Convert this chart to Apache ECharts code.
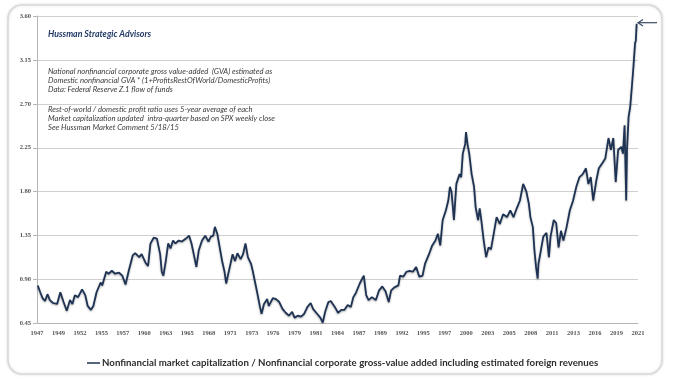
<!DOCTYPE html>
<html>
<head>
<meta charset="utf-8">
<script src="https://cdn.jsdelivr.net/npm/echarts@6/dist/echarts.min.js"></script>
<style>
html,body{margin:0;padding:0;background:#fff;}
#chart{width:674px;height:384px;}
</style>
</head>
<body>
<div id="chart"></div>
<script>
// decimal years of each reading
const years = [
1947.1,1947.4,1947.7,1948.0,1948.3,1948.6,1949.0,1949.5,1949.9,1950.3,1950.7,1951.1,1951.4,1951.7,1952.1,1952.6,1953.0,1953.3,1953.7,1954.0,
1954.4,1954.9,1955.1,1955.6,1955.9,1956.3,1956.7,1957.2,1957.6,1958.0,1958.4,1958.9,1959.2,1959.7,1960.0,1960.5,1960.8,1961.1,1961.5,1961.9,
1962.0,1962.3,1962.5,1962.7,1963.0,1963.3,1963.6,1963.9,1964.2,1964.6,1965.0,1965.5,1965.9,1966.2,1966.5,1966.8,1967.1,1967.5,1967.9,1968.3,
1968.6,1968.9,1969.1,1969.4,1969.7,1970.0,1970.3,1970.5,1970.9,1971.3,1971.6,1971.9,1972.3,1972.6,1972.9,1973.2,1973.6,1973.8,1974.1,1974.4,
1974.7,1974.9,1975.2,1975.6,1975.8,1976.3,1976.7,1977.1,1977.5,1977.9,1978.3,1978.7,1979.0,1979.4,1979.8,1980.2,1980.6,1981.0,1981.3,1981.8,
1982.2,1982.5,1982.8,1983.2,1983.5,1984.0,1984.4,1984.8,1985.2,1985.6,1986.0,1986.3,1986.6,1987.1,1987.4,1987.6,1987.9,1988.2,1988.6,1989.1,
1989.5,1989.9,1990.3,1990.7,1991.0,1991.4,1991.9,1992.1,1992.5,1992.9,1993.3,1993.7,1994.1,1994.5,1994.9,1995.2,1995.7,1996.1,1996.5,1996.8,
1997.1,1997.4,1997.8,1998.1,1998.3,1998.5,1998.8,1999.1,1999.5,1999.7,1999.9,2000.2,2000.3,2000.5,2000.7,2001.0,2001.3,2001.5,2001.8,2002.0,
2002.2,2002.5,2002.8,2003.1,2003.4,2003.7,2004.1,2004.5,2004.9,2005.4,2005.8,2006.2,2006.6,2007.0,2007.4,2007.8,2008.1,2008.3,2008.6,2008.8,
2009.0,2009.2,2009.3,2009.6,2009.9,2010.3,2010.6,2010.8,2011.2,2011.5,2011.8,2012.1,2012.4,2012.8,2013.2,2013.6,2014.0,2014.4,2014.8,2015.2,
2015.5,2015.8,2016.1,2016.5,2016.8,2017.2,2017.6,2018.0,2018.3,2018.6,2018.9,2019.2,2019.6,2019.8,2020.0,2020.2,2020.3,2020.5,2020.7,2020.9,
2021.1,2021.3,2021.4,2021.5
];
// Nonfinancial market cap / nonfinancial corporate GVA
const ratio = [
0.84,0.77,0.71,0.68,0.75,0.69,0.66,0.65,0.77,0.67,0.58,0.69,0.65,0.74,0.72,0.80,0.74,0.63,0.59,0.63,
0.77,0.87,0.84,0.98,0.96,0.99,0.96,0.97,0.94,0.85,0.99,1.15,1.17,1.13,1.16,1.07,1.04,1.27,1.33,1.32,
1.31,1.16,0.98,0.94,1.09,1.27,1.22,1.30,1.27,1.30,1.29,1.32,1.35,1.27,1.15,1.03,1.20,1.30,1.35,1.29,
1.34,1.35,1.44,1.37,1.23,1.09,0.98,0.86,1.01,1.16,1.09,1.17,1.11,1.16,1.27,1.13,1.06,0.99,0.87,0.75,
0.62,0.55,0.65,0.70,0.63,0.71,0.70,0.67,0.60,0.56,0.53,0.57,0.51,0.53,0.52,0.55,0.62,0.66,0.60,0.55,
0.51,0.46,0.57,0.67,0.68,0.62,0.56,0.59,0.59,0.64,0.62,0.72,0.76,0.86,0.91,0.94,0.74,0.69,0.72,0.69,
0.79,0.83,0.78,0.67,0.79,0.82,0.84,0.94,0.93,0.98,0.99,0.98,1.03,0.93,0.94,1.06,1.16,1.25,1.30,1.37,
1.25,1.51,1.61,1.71,1.85,1.80,1.51,1.88,1.98,1.95,2.19,2.29,2.41,2.28,2.19,1.98,1.85,1.64,1.51,1.63,
1.51,1.30,1.13,1.23,1.21,1.35,1.54,1.47,1.57,1.54,1.61,1.54,1.63,1.71,1.88,1.80,1.68,1.54,1.44,1.20,
1.03,0.91,1.06,1.20,1.34,1.38,1.13,1.34,1.51,1.48,1.23,1.40,1.30,1.44,1.61,1.71,1.85,1.95,1.98,2.04,
1.88,1.95,1.71,1.92,2.04,2.09,2.14,2.35,2.23,2.35,1.90,2.23,2.26,2.19,2.48,1.71,2.23,2.57,2.67,2.87,
3.08,3.32,3.35,3.52
];
const yTicks = [0.45, 0.90, 1.35, 1.80, 2.25, 2.70, 3.15, 3.60];
const startYear = 1947;
const seriesName = 'Nonfinancial market capitalization / Nonfinancial corporate gross-value added including estimated foreign revenues';
const titleText = 'Hussman Strategic Advisors';
const note1 = [
  'National nonfinancial corporate gross value-added  (GVA) estimated as',
  'Domestic nonfinancial GVA * (1+ProfitsRestOfWorld/DomesticProfits)',
  'Data: Federal Reserve Z.1 flow of funds'
];
const note2 = [
  'Rest-of-world / domestic profit ratio uses 5-year average of each',
  'Market capitalization updated  intra-quarter based on SPX weekly close',
  'See Hussman Market Comment 5/18/15'
];

const seriesData = years.map((y, i) => [(y - startYear) * 12, ratio[i]]);

const chart = echarts.init(document.getElementById('chart'), null, {renderer: 'canvas'});
const noteStyle = {fontFamily: 'Lato', fontStyle: 'italic', fontSize: 7.7, fill: '#3a3a3a', lineHeight: 9.1};
chart.setOption({
  animation: false,
  backgroundColor: '#fff',
  grid: {left: 37, right: 36, top: 16, bottom: 60.5},
  xAxis: {
    type: 'value', min: 0, max: 896, interval: 32,
    axisLine: {show: true, lineStyle: {color: '#b5b5b5', width: 1}},
    axisTick: {show: false},
    splitLine: {show: false},
    axisLabel: {
      margin: 6, fontSize: 6.5, fontWeight: 'bold', color: '#555', fontFamily: 'Liberation Serif',
      showMinLabel: true, showMaxLabel: true,
      formatter: v => String(startYear + Math.floor(v / 12 + 1e-6))
    }
  },
  yAxis: {
    type: 'value', min: yTicks[0], max: yTicks[yTicks.length - 1], interval: 0.45,
    axisLine: {show: true, lineStyle: {color: '#b5b5b5', width: 1}},
    axisTick: {show: true, length: 4, lineStyle: {color: '#b5b5b5'}},
    splitLine: {show: true, lineStyle: {color: '#cfcfcf', width: 1.2}},
    axisLabel: {margin: 6, fontSize: 6.5, fontWeight: 'bold', color: '#555', fontFamily: 'Liberation Serif',
      formatter: v => v.toFixed(2)}
  },
  legend: {
    left: 82, top: 353, icon: 'rect', itemWidth: 13, itemHeight: 1.5,
    textStyle: {fontFamily: 'Lato', fontSize: 9.7, fontWeight: 'bold', color: '#2e2e2e', padding: [0, 0, 0, -3]},
    data: [seriesName]
  },
  series: [{
    name: seriesName, type: 'line', data: seriesData, showSymbol: false, smooth: false,
    lineStyle: {color: '#1e3354', width: 1.8, shadowColor: 'rgba(0,0,0,0.35)', shadowBlur: 2, shadowOffsetY: 1},
    itemStyle: {color: '#1e3354'}
  }],
  graphic: [
    {type: 'rect', z: -10, silent: true, shape: {x: 8, y: 5, width: 654, height: 369, r: 14},
     style: {fill: '#fff', stroke: '#d9d9d9', lineWidth: 1.5, shadowBlur: 3, shadowColor: 'rgba(0,0,0,0.12)'}},
    {type: 'text', left: 48, top: 30, style: {text: titleText, fontFamily: 'Lato', fontStyle: 'italic', fontWeight: 'bold', fontSize: 8.8, fill: '#1f3864'}},
    {type: 'text', left: 48, top: 67, style: Object.assign({text: note1.join('\n')}, noteStyle)},
    {type: 'text', left: 48, top: 105, style: Object.assign({text: note2.join('\n')}, noteStyle)},
    {type: 'line', shape: {x1: 657, y1: 22.7, x2: 638, y2: 22.7}, style: {stroke: '#3a4a63', lineWidth: 1.2}},
    {type: 'polyline', shape: {points: [[643, 19.5], [638, 22.7], [643, 26]]}, style: {stroke: '#3a4a63', lineWidth: 1.2, fill: null}}
  ]
});
</script>
</body>
</html>
